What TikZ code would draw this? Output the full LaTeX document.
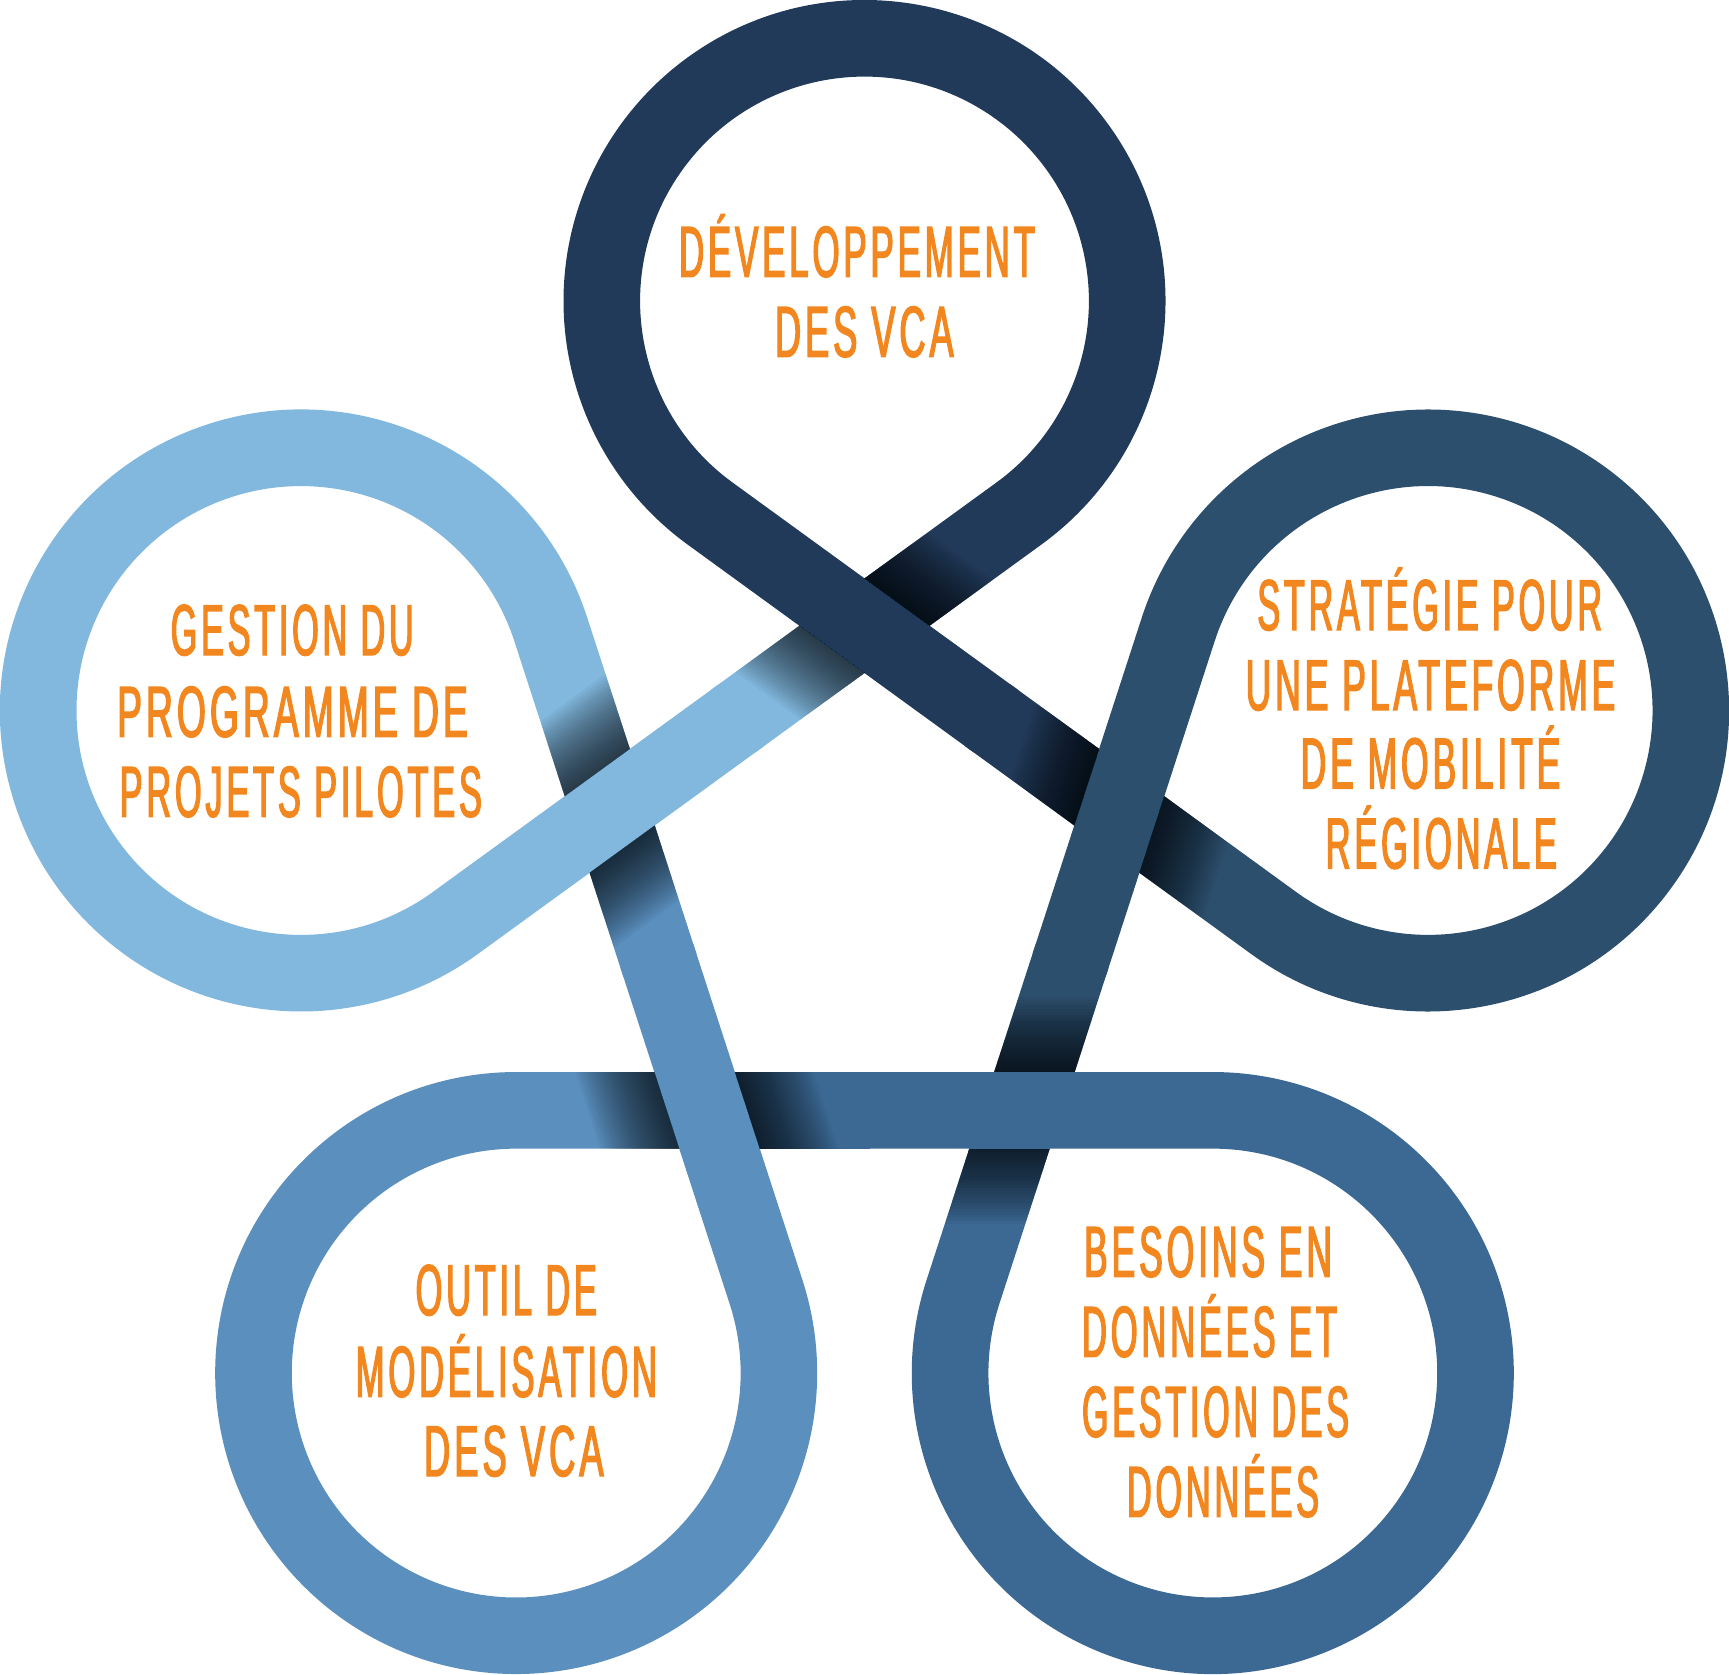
\documentclass[tikz,border=0pt]{standalone}
\usepackage{fontspec}
\usepackage{graphicx}
\newfontfamily\lblfont[FakeStretch=0.55,FakeBold=2,LetterSpace=6]{Liberation Sans}
\usetikzlibrary{calc}
\definecolor{cT}{HTML}{223A59}
\definecolor{cR}{HTML}{2D4F6E}
\definecolor{cBR}{HTML}{3C6994}
\definecolor{cBL}{HTML}{5A8FBE}
\definecolor{cL}{HTML}{82B8DE}
\definecolor{txt}{HTML}{F2871F}
\def\Ro{301}
\def\Ri{224.4}
\def\dO{178.42}
\def\dI{255.02}
\def\Lt{348.32}
\newcommand\underpiece[2]{%
  \pgfmathsetmacro\aO{#1-36}\pgfmathsetmacro\aOu{#1-126}\pgfmathsetmacro\aOb{#1+54}%
  \fill[#2] ($(C)+(\aO:\dO)+(\aOb:5)$) -- ($(C)+(\aO:\dO)+(\aOu:160)$)
    -- ($(C)+(\aO:\dI)+(\aOu:160)$) -- ($(C)+(\aO:\dI)+(\aOb:5)$) -- cycle;}
\newcommand\loopshape[2]{%
  \pgfmathsetmacro\aI{#1+36}\pgfmathsetmacro\aIu{#1-54}%
  \pgfmathsetmacro\aO{#1-36}\pgfmathsetmacro\aOu{#1-126}\pgfmathsetmacro\aOb{#1+54}%
  \pgfmathsetmacro\sa{#1-144}\pgfmathsetmacro\ea{#1+144}%
  \fill[#2] ($(C)+(\aI:\dO)+(\aIu:150)$) -- ($(C)+(\aI:\dO)+(\aIu:\Lt)$)
    arc[start angle=\sa, end angle=\ea, radius=\Ro]
    -- ($(C)+(\aO:\dO)+(\aOu:5)$) -- ($(C)+(\aO:\dI)+(\aOu:5)$)
    -- ($(C)+(\aO:\dI)+(\aOb:\Lt)$)
    arc[start angle=\ea, end angle=\sa, radius=\Ri]
    -- ($(C)+(\aI:\dI)+(\aIu:150)$) -- cycle;}
\newcommand\crossshadow[1]{%
  \pgfmathsetmacro\aI{#1+36}\pgfmathsetmacro\aIu{#1-54}\pgfmathsetmacro\aO{#1-36}%
  \begin{scope}
    \clip ($(C)+(\aI:\dO)$) -- ($(C)+(\aI:\dO)+(\aIu:\Lt)$)
      -- ($(C)+(\aI:\dI)+(\aIu:\Lt)$) -- ($(C)+(\aI:\dI)$) -- cycle;
    \begin{scope}[shift={(C)}, rotate=\aO]
      \foreach \k in {1,...,25}{
        \fill[black, fill opacity=0.041] (\dI,-700) rectangle ({\dI+3*\k},700);
        \fill[black, fill opacity=0.041] ({\dO-3*\k},-700) rectangle (\dO,700);
      }
    \end{scope}
  \end{scope}}
\newcommand\lbltext[2]{\resizebox{#1pt}{\height}{#2}}
\begin{document}
\begin{tikzpicture}[x=1pt,y=1pt,
  lbl/.style={anchor=base, inner sep=0, text=txt,
    font=\lblfont\fontsize{72}{80}\selectfont}]
\useasboundingbox (0,-1674) rectangle (1729,0);
\coordinate (C) at (864.5,-893.6);
\foreach \a/\c in {90/cT,18/cR,-54/cBR,-126/cBL,-198/cL}{\underpiece{\a}{\c}}
\foreach \a/\c in {90/cT,18/cR,-54/cBR,-126/cBL,-198/cL}{\loopshape{\a}{\c}}
\foreach \a in {90,18,-54,-126,-198}{\crossshadow{\a}}
% top
\node[lbl] (t1) at (857,-276.7) {\lbltext{356}{DÉVELOPPEMENT}};
\node[lbl] (t2) at (864.3,-356.7) {\lbltext{178.7}{DES VCA}};
% left
\node[lbl] (l1) at (292.2,-655) {\lbltext{243}{GESTION DU}};
\node[lbl] (l2) at (292.5,-736.7) {\lbltext{350.7}{PROGRAMME DE}};
\node[lbl] (l3) at (300.8,-816.7) {\lbltext{362.3}{PROJETS PILOTES}};
% right
\node[lbl] (r1) at (1429.7,-630) {\lbltext{344.7}{STRATÉGIE POUR}};
\node[lbl] (r2) at (1430.5,-710) {\lbltext{369.7}{UNE PLATEFORME}};
\node[lbl] (r3) at (1430.5,-788.3) {\lbltext{259.7}{DE MOBILITÉ}};
\node[lbl] (r4) at (1441.3,-868.3) {\lbltext{231.3}{RÉGIONALE}};
% bottom left
\node[lbl] (bl1) at (506.3,-1315) {\lbltext{181.3}{OUTIL DE}};
\node[lbl] (bl2) at (506.3,-1396.7) {\lbltext{301.3}{MODÉLISATION}};
\node[lbl] (bl3) at (513.8,-1476) {\lbltext{179.7}{DES VCA}};
% bottom right
\node[lbl] (br1) at (1208,-1276.7) {\lbltext{248}{BESOINS EN}};
\node[lbl] (br2) at (1209.5,-1356.7) {\lbltext{255}{DONNÉES ET}};
\node[lbl] (br3) at (1215.5,-1436.7) {\lbltext{267}{GESTION DES}};
\node[lbl] (br4) at (1223,-1516.7) {\lbltext{192}{DONNÉES}};
\end{tikzpicture}
\end{document}
